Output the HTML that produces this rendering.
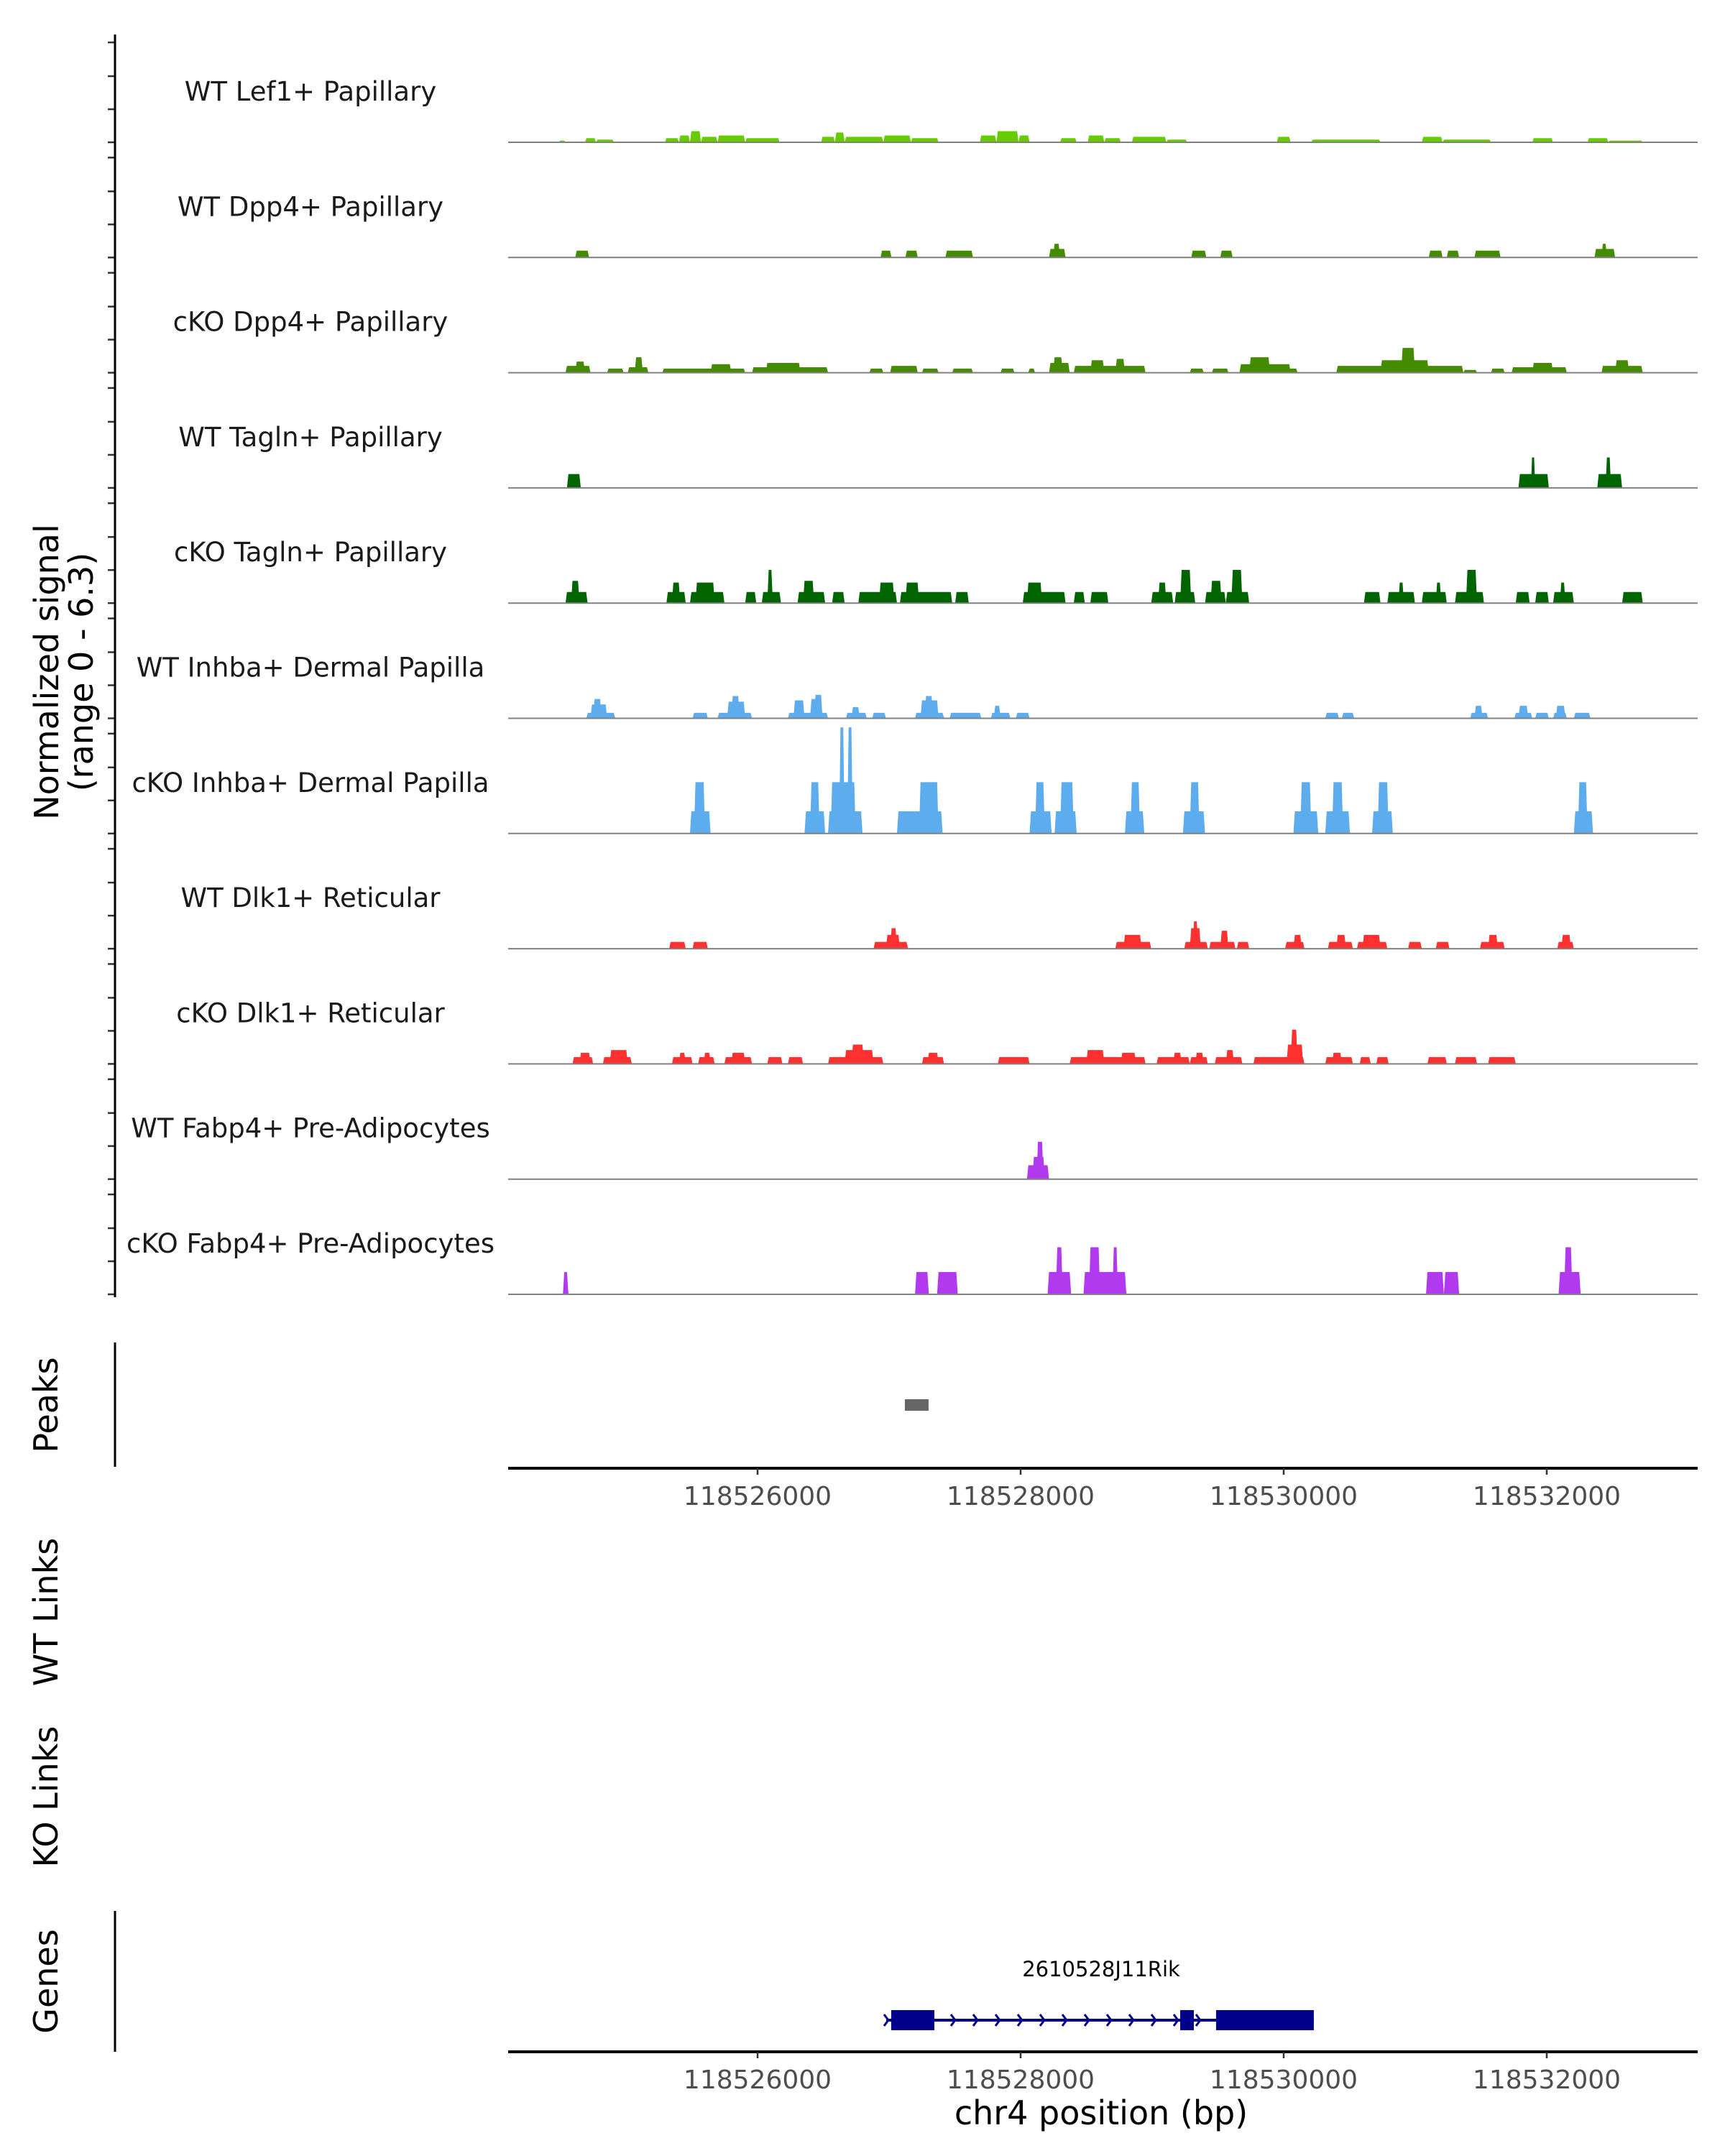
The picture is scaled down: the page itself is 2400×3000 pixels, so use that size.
<!DOCTYPE html>
<html><head><meta charset="utf-8">
<style>
html,body{margin:0;padding:0;background:#fff;}
svg{display:block;font-family:"DejaVu Sans","Liberation Sans",sans-serif;}
</style></head>
<body>
<svg id="chart" width="2400" height="3000" viewBox="0 0 2400 3000" xmlns="http://www.w3.org/2000/svg">
<g id="tracks"></g>
<g id="axes"></g>
<text transform="translate(81,935) rotate(-90)" text-anchor="middle" font-size="46" fill="#000">Normalized signal</text>
<text transform="translate(129,935) rotate(-90)" text-anchor="middle" font-size="46" fill="#000">(range 0 - 6.3)</text>
<text transform="translate(80,1955) rotate(-90)" text-anchor="middle" font-size="46" fill="#000">Peaks</text>
<text transform="translate(80,2243) rotate(-90)" text-anchor="middle" font-size="46" fill="#000">WT Links</text>
<text transform="translate(80,2500) rotate(-90)" text-anchor="middle" font-size="46" fill="#000">KO Links</text>
<text transform="translate(80,2757) rotate(-90)" text-anchor="middle" font-size="46" fill="#000">Genes</text>
<text x="1532" y="2956" text-anchor="middle" font-size="46" fill="#000">chr4 position (bp)</text>
<text x="1532" y="2750" text-anchor="middle" font-size="29" fill="#000">2610528J11Rik</text>
</svg>
<script>
const trackNames = ["WT Lef1+ Papillary","WT Dpp4+ Papillary","cKO Dpp4+ Papillary","WT Tagln+ Papillary","cKO Tagln+ Papillary","WT Inhba+ Dermal Papilla","cKO Inhba+ Dermal Papilla","WT Dlk1+ Reticular","cKO Dlk1+ Reticular","WT Fabp4+ Pre-Adipocytes","cKO Fabp4+ Pre-Adipocytes"];
const xTicks = [118526000,118528000,118530000,118532000];
const lef1WT = [[118524488,118524540,0.1],[118524688,118524772,0.24],[118524772,118524908,0.16],[118525296,118525402,0.24],[118525402,118525486,0.4],[118525486,118525570,0.65],[118525570,118525696,0.32],[118525696,118525906,0.4],[118525906,118526168,0.24],[118526483,118526588,0.32],[118526588,118526662,0.57],[118526662,118526956,0.32],[118526956,118527166,0.4],[118527166,118527376,0.24],[118527690,118527816,0.4],[118527816,118527984,0.65],[118527984,118528068,0.4],[118528300,118528426,0.24],[118528510,118528636,0.4],[118528636,118528762,0.24],[118528846,118529108,0.32],[118529108,118529266,0.16],[118529948,118530053,0.32],[118530210,118530736,0.16],[118531050,118531208,0.32],[118531208,118531576,0.16],[118531890,118532048,0.24],[118532310,118532468,0.24],[118532468,118532730,0.1]];
const dpp4WT = [[118524614,118524719,0.4],[118526935,118527018,0.4],[118527124,118527218,0.4],[118527428,118527638,0.4],[118528216,118528342,0.5],[118528247,118528300,0.8],[118529297,118529412,0.4],[118529518,118529612,0.4],[118531103,118531208,0.4],[118531240,118531334,0.4],[118531450,118531649,0.4],[118532363,118532520,0.5],[118532416,118532458,0.8]];
const dpp4KO = [[118524540,118524730,0.4],[118524614,118524688,0.65],[118524856,118524982,0.24],[118525013,118525170,0.32],[118525066,118525128,0.9],[118525276,118525906,0.24],[118525643,118525800,0.5],[118525958,118526536,0.32],[118526063,118526326,0.57],[118526850,118526956,0.24],[118527008,118527218,0.4],[118527250,118527376,0.24],[118527480,118527638,0.24],[118527848,118527953,0.24],[118528058,118528110,0.24],[118528216,118528373,0.57],[118528247,118528320,0.9],[118528404,118528950,0.4],[118528530,118528636,0.73],[118528720,118528793,0.81],[118529286,118529392,0.24],[118529454,118529580,0.24],[118529664,118530053,0.5],[118529738,118529896,0.9],[118530000,118530106,0.24],[118530400,118531366,0.4],[118530736,118531103,0.73],[118530893,118530998,1.45],[118531366,118531470,0.16],[118531576,118531680,0.24],[118531733,118532153,0.32],[118531890,118532048,0.57],[118532416,118532730,0.4],[118532520,118532626,0.73]];
const taglnWT = [[118524551,118524656,0.81],[118531785,118532016,0.81],[118531880,118531912,1.78],[118532384,118532573,0.81],[118532447,118532489,1.78]];
const taglnKO = [[118524540,118524708,0.65],[118524582,118524646,1.3],[118525307,118525454,0.65],[118525349,118525412,1.2],[118525486,118525748,0.65],[118525528,118525674,1.2],[118525906,118525990,0.65],[118526032,118526178,0.65],[118526074,118526116,1.94],[118526304,118526514,0.65],[118526346,118526430,1.3],[118526567,118526662,0.65],[118526766,118527060,0.65],[118526924,118527040,1.2],[118527082,118527480,0.65],[118527124,118527228,1.2],[118527502,118527606,0.65],[118528016,118528342,0.65],[118528048,118528163,1.2],[118528404,118528488,0.65],[118528530,118528667,0.65],[118528993,118529160,0.65],[118529045,118529108,1.2],[118529171,118529328,0.65],[118529213,118529297,1.94],[118529402,118529560,0.65],[118529444,118529528,1.3],[118529560,118529738,0.65],[118529602,118529686,1.94],[118530610,118530736,0.65],[118530788,118530998,0.65],[118530872,118530914,1.2],[118531050,118531240,0.65],[118531156,118531198,1.2],[118531302,118531523,0.65],[118531386,118531470,1.94],[118531764,118531870,0.65],[118531912,118532016,0.65],[118532048,118532206,0.65],[118532100,118532142,1.2],[118532573,118532730,0.65]];
const inhbaWT = [[118524698,118524918,0.32],[118524730,118524856,0.81],[118524750,118524814,1.13],[118525506,118525622,0.32],[118525696,118525958,0.32],[118525769,118525906,0.97],[118525800,118525864,1.3],[118526231,118526536,0.32],[118526273,118526357,1.05],[118526399,118526494,1.13],[118526430,118526494,1.37],[118526672,118526830,0.32],[118526714,118526777,0.65],[118526872,118526976,0.32],[118527197,118527418,0.32],[118527239,118527376,1.05],[118527270,118527334,1.3],[118527460,118527701,0.32],[118527774,118527922,0.32],[118527796,118527848,0.73],[118527964,118528068,0.32],[118530316,118530420,0.32],[118530442,118530536,0.32],[118531418,118531554,0.32],[118531450,118531512,0.73],[118531754,118531890,0.32],[118531785,118531859,0.73],[118531912,118532016,0.32],[118532048,118532153,0.32],[118532069,118532142,0.73],[118532206,118532332,0.32]];
const inhbaKO = [[118525486,118525643,1.3],[118525517,118525601,3.0],[118526357,118526514,1.3],[118526399,118526472,3.0],[118526536,118526798,1.3],[118526556,118526746,3.0],[118526620,118526662,6.2],[118526682,118526724,6.2],[118527060,118527407,1.3],[118527228,118527376,3.0],[118528068,118528236,1.3],[118528110,118528184,3.0],[118528258,118528426,1.3],[118528300,118528404,3.0],[118528793,118528940,1.3],[118528835,118528908,3.0],[118529234,118529402,1.3],[118529286,118529360,3.0],[118530074,118530263,1.3],[118530126,118530210,3.0],[118530316,118530504,1.3],[118530368,118530452,3.0],[118530672,118530830,1.3],[118530714,118530798,3.0],[118532206,118532352,1.3],[118532237,118532310,3.0]];
const dlk1WT = [[118525328,118525454,0.4],[118525506,118525622,0.4],[118526882,118527144,0.4],[118526976,118527082,0.81],[118527008,118527060,1.2],[118528720,118528993,0.4],[118528782,118528919,0.81],[118529244,118529423,0.4],[118529286,118529370,1.2],[118529308,118529350,1.6],[118529434,118529633,0.4],[118529518,118529580,1.05],[118529644,118529738,0.4],[118530011,118530158,0.4],[118530074,118530137,0.81],[118530336,118530526,0.4],[118530400,118530473,0.81],[118530557,118530788,0.4],[118530599,118530736,0.81],[118530946,118531050,0.4],[118531156,118531260,0.4],[118531492,118531680,0.4],[118531554,118531628,0.81],[118532080,118532206,0.4],[118532111,118532184,0.81]];
const dlk1KO = [[118524593,118524750,0.4],[118524646,118524730,0.65],[118524824,118525044,0.4],[118524876,118525013,0.81],[118525349,118525506,0.4],[118525402,118525454,0.65],[118525548,118525674,0.4],[118525590,118525643,0.65],[118525748,118525958,0.4],[118525800,118525906,0.65],[118526074,118526189,0.4],[118526231,118526346,0.4],[118526536,118526956,0.4],[118526662,118526882,0.81],[118526714,118526808,1.13],[118527250,118527418,0.4],[118527292,118527376,0.65],[118527827,118528068,0.4],[118528373,118528950,0.4],[118528499,118528636,0.81],[118528762,118528877,0.65],[118529034,118529286,0.4],[118529160,118529224,0.65],[118529286,118529423,0.4],[118529328,118529392,0.65],[118529476,118529686,0.4],[118529560,118529622,0.81],[118529770,118530158,0.4],[118530022,118530148,1.13],[118530053,118530106,2.0],[118530316,118530526,0.4],[118530368,118530442,0.65],[118530578,118530662,0.4],[118530704,118530798,0.4],[118531093,118531240,0.4],[118531302,118531470,0.4],[118531554,118531764,0.4]];
const fabp4WT = [[118528048,118528216,0.81],[118528090,118528184,1.3],[118528121,118528174,2.18]];
const fabp4KO = [[118524520,118524562,1.3],[118527197,118527302,1.3],[118527365,118527522,1.3],[118528205,118528384,1.3],[118528268,118528320,2.75],[118528478,118528804,1.3],[118528520,118528604,2.75],[118528698,118528740,2.75],[118531082,118531218,1.3],[118531218,118531334,1.3],[118532090,118532258,1.3],[118532132,118532195,2.75]];
const trackData = [lef1WT,dpp4WT,dpp4KO,taglnWT,taglnKO,inhbaWT,inhbaKO,dlk1WT,dlk1KO,fabp4WT,fabp4KO];
const trackColors = ["#66CC00","#458B00","#458B00","#006400","#006400","#5CACEE","#5CACEE","#FF3030","#FF3030","#B23AEE","#B23AEE"];
const peakRegions = [[118527120,118527300]];
const geneSpan = [118526978,118530229];
const geneExons = [[118527016,118527344],[118529213,118529317],[118529486,118530229]];

const NS="http://www.w3.org/2000/svg";
const X0=707, X1=2362;
function xs(bp){ return 1054 + (bp-118526000)*0.183; }
function ys(v){ return v*150/6.3; }
function base(i){ return 198 + i*160.3; }
function mk(tag, attrs, parent){ const e=document.createElementNS(NS,tag); for(const k in attrs) e.setAttribute(k,attrs[k]); parent.appendChild(e); return e; }
const T=document.getElementById('tracks'), A=document.getElementById('axes');

trackData.forEach((data,i)=>{
  const b=base(i);
  const g=mk('g',{},T);
  
  
  const lbl=mk('text',{x:432,y:b-58,'text-anchor':'middle','font-size':37,fill:'#1a1a1a'},g);
  lbl.textContent=trackNames[i];
  
  
  data.forEach(d=>{
    const x1=xs(d[0]), x2=xs(d[1]), h=ys(d[2]);
    const s=Math.min(2,(x2-x1)/4);
    const p=mk('polygon',{points:`${x1},${b} ${x1+s},${b-h} ${x2-s},${b-h} ${x2},${b}`,fill:trackColors[i]},g);
    
    
  });
  const bl=mk('line',{x1:X0,x2:X1,y1:b,y2:b,stroke:'#808080','stroke-width':2},g);
  
  
  [0,46,92,139].forEach(o=>{
    const t=mk('line',{x1:150,x2:160,y1:b-o,y2:b-o,stroke:'#333','stroke-width':2.5},A);
    
    
  });
});
[[48,1805],[1868,2041],[2659,2855]].forEach(r=>{
  const l=mk('line',{x1:160,x2:160,y1:r[0],y2:r[1],stroke:'#000','stroke-width':3},A);
  
  
});
peakRegions.forEach(p=>{
  const r=mk('rect',{x:xs(p[0]),y:1947,width:xs(p[1])-xs(p[0]),height:16,fill:'#666'},A);
  
  
});
[[2043,2094],[2855,2906]].forEach(ax=>{
  const l=mk('line',{x1:X0,x2:X1,y1:ax[0],y2:ax[0],stroke:'#000','stroke-width':4},A);
  
  
  xTicks.forEach(t=>{
    const tk=mk('line',{x1:xs(t),x2:xs(t),y1:ax[0],y2:ax[0]+9,stroke:'#333','stroke-width':2.5},A);
    
    
    const tl=mk('text',{x:xs(t),y:ax[1],'text-anchor':'middle','font-size':36,fill:'#4d4d4d'},A);
    tl.textContent=String(t);
    
    
  });
});
const gy=2811;
const gl=mk('line',{x1:xs(geneSpan[0]),x2:xs(geneSpan[1]),y1:gy,y2:gy,stroke:'#00008B','stroke-width':4},A);


geneExons.forEach(e=>{
  const r=mk('rect',{x:xs(e[0]),y:gy-14,width:xs(e[1])-xs(e[0]),height:28,fill:'#00008B'},A);
  
  
});
for(let x=xs(geneSpan[0]); x<xs(geneSpan[1]); x+=31){
  const c=mk('polyline',{points:`${x-3},${gy-8} ${x+3},${gy} ${x-3},${gy+8}`,fill:'none',stroke:'#00008B','stroke-width':3},A);
  
  
}
</script>
</body></html>
